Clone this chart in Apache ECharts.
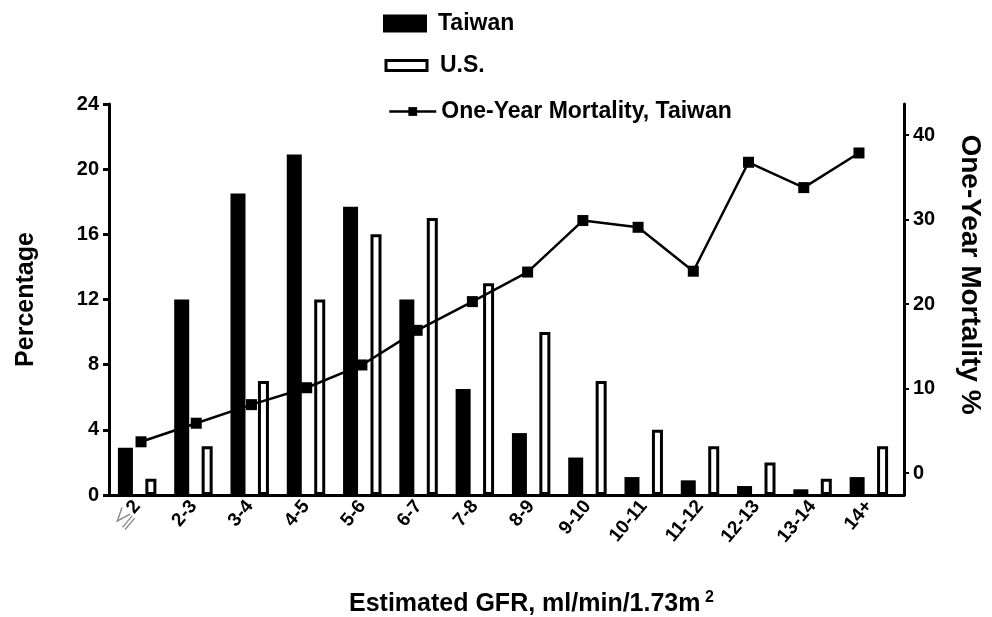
<!DOCTYPE html>
<html>
<head>
<meta charset="utf-8">
<script src="https://cdn.jsdelivr.net/npm/echarts@6/dist/echarts.min.js"></script>
<style>
  html, body { margin: 0; padding: 0; background: #fff; }
  #chart { width: 992px; height: 617px; }
</style>
</head>
<body>
<div id="chart"></div>
<script>
// ---- data ----
const categories = ['≦2', '2-3', '3-4', '4-5', '5-6', '6-7', '7-8', '8-9', '9-10', '10-11', '11-12', '12-13', '13-14', '14+'];
const taiwanPct = [2.9, 12.0, 18.5, 20.9, 17.7, 12.0, 6.5, 3.8, 2.3, 1.1, 0.9, 0.55, 0.35, 1.1];
const usPct = [1.0, 3.0, 7.0, 12.0, 16.0, 17.0, 13.0, 10.0, 7.0, 4.0, 3.0, 2.0, 1.0, 3.0];
const mortalityTaiwan = [3.7, 5.9, 8.1, 10.1, 12.8, 16.9, 20.3, 23.8, 29.9, 29.1, 23.9, 36.8, 33.8, 37.9];
const leftTicks = [0, 4, 8, 12, 16, 20, 24];
const rightTicks = [0, 10, 20, 30, 40];

const FONT = "'Liberation Sans', Arial, Helvetica, sans-serif";
const INK = '#000';

const chart = echarts.init(document.getElementById('chart'), null, { renderer: 'canvas' });

const option = {
  backgroundColor: '#fff',
  animation: false,
  textStyle: { fontFamily: FONT, color: INK, fontWeight: 'bold' },
  title: {
    left: 344, top: 585,
    text: '{a|Estimated GFR, ml/min/1.73m}{s| 2}',
    textStyle: {
      rich: {
        a: { fontFamily: FONT, fontWeight: 'bold', fontSize: 25, color: INK, lineHeight: 29 },
        s: { fontFamily: FONT, fontWeight: 'bold', fontSize: 16, color: INK, verticalAlign: 'top', lineHeight: 29 }
      }
    }
  },
  legend: [
    {
      data: ['Taiwan'], left: 383, top: 12, padding: 0, icon: 'rect',
      itemWidth: 44, itemHeight: 18,
      textStyle: { fontFamily: FONT, fontWeight: 'bold', fontSize: 23, color: INK, padding: [0, 0, 0, 6] }
    },
    {
      data: ['U.S.'], left: 384.5, top: 54, padding: 0, icon: 'rect',
      itemWidth: 41, itemHeight: 10,
      itemStyle: { borderWidth: 3, borderColor: INK, color: '#fff' },
      textStyle: { fontFamily: FONT, fontWeight: 'bold', fontSize: 23, color: INK, padding: [0, 0, 0, 8] }
    },
    {
      data: ['One-Year Mortality, Taiwan'], left: 388, top: 100, padding: 0,
      itemWidth: 47, itemHeight: 11,
      lineStyle: { width: 2.5, color: INK },
      textStyle: { fontFamily: FONT, fontWeight: 'bold', fontSize: 23, color: INK }
    }
  ],
  grid: [
    { left: 109, right: 95, top: 104, bottom: 122 },
    { left: 113.4, right: 105.4, top: 104, bottom: 122 },
    { left: 109, right: 85, top: 104, bottom: 122 }
  ],
  xAxis: [
    {
      type: 'category', gridIndex: 0, data: categories,
      axisLine: { show: false }, axisTick: { show: false },
      axisLabel: {
        rotate: 50, margin: 8, interval: 0,
        fontFamily: FONT, fontWeight: 'bold', fontSize: 19, color: INK,
        formatter: function (v) { return v.charAt(0) === '≦' ? '{g|≦}{b|' + v.slice(1) + '}' : v; },
        rich: {
          g: { fontFamily: "'Noto Sans CJK SC', sans-serif", fontWeight: 'normal', fontSize: 20, color: '#8a8a8a' },
          b: { fontFamily: FONT, fontWeight: 'bold', fontSize: 19, color: INK }
        }
      }
    },
    { type: 'category', gridIndex: 1, data: categories, show: false },
    {
      type: 'category', gridIndex: 2, data: categories,
      axisLine: { show: true, onZero: false, lineStyle: { color: INK, width: 3 } },
      axisTick: { show: false }, axisLabel: { show: false }
    }
  ],
  yAxis: [
    {
      type: 'value', gridIndex: 0, min: 0, max: 24, interval: 4,
      name: 'Percentage', nameLocation: 'middle', nameGap: 70,
      nameTextStyle: { fontFamily: FONT, fontWeight: 'bold', fontSize: 25, color: INK },
      axisLine: { show: true, lineStyle: { color: INK, width: 3 } },
      axisTick: { show: true, length: 6, lineStyle: { color: INK, width: 3 } },
      axisLabel: {
        margin: 10, fontFamily: FONT, fontWeight: 'bold', fontSize: 20, color: INK,
        customValues: leftTicks
      },
      splitLine: { show: false }
    },
    { type: 'value', gridIndex: 1, min: -2.6, max: 43.7, show: false },
    {
      type: 'value', gridIndex: 2, position: 'right', min: -2.6, max: 43.7,
      name: 'One-Year Mortality %', nameLocation: 'middle', nameGap: 52, nameRotate: -90,
      nameTextStyle: { fontFamily: FONT, fontWeight: 'bold', fontSize: 28, color: INK, padding: [0, 50, 0, 0] },
      axisLine: { show: true, lineStyle: { color: INK, width: 3 } },
      axisTick: { show: true, length: 5, customValues: rightTicks, lineStyle: { color: INK, width: 2 } },
      axisLabel: {
        margin: 9, fontFamily: FONT, fontWeight: 'bold', fontSize: 20, color: INK,
        customValues: rightTicks
      },
      splitLine: { show: false }
    }
  ],
  series: [
    {
      name: 'Taiwan', type: 'bar', xAxisIndex: 0, yAxisIndex: 0,
      data: taiwanPct, barWidth: 15, barGap: '83%',
      itemStyle: { color: INK }
    },
    {
      name: 'U.S.', type: 'bar', xAxisIndex: 0, yAxisIndex: 0,
      data: usPct, barWidth: 11, barGap: '83%',
      itemStyle: { color: '#fff', borderColor: INK, borderWidth: 3 }
    },
    {
      name: 'One-Year Mortality, Taiwan', type: 'line', xAxisIndex: 1, yAxisIndex: 1,
      data: mortalityTaiwan, symbol: 'rect', symbolSize: 11, z: 5,
      lineStyle: { color: INK, width: 2.5 },
      itemStyle: { color: INK }
    }
  ]
};

chart.setOption(option);
</script>
</body>
</html>
